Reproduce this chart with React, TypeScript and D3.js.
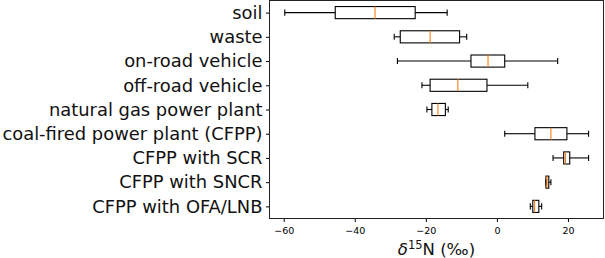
import React, { useEffect, useRef } from 'react'
import * as d3 from 'd3'

// categories top to bottom
const categories = [
    'soil',
    'waste',
    'on-road vehicle',
    'off-road vehicle',
    'natural gas power plant',
    'coal-fired power plant (CFPP)',
    'CFPP with SCR',
    'CFPP with SNCR',
    'CFPP with OFA/LNB',
]

// box stats (per mil)
const whiskerLow = [-59.7, -28.9, -28.0, -21.1, -19.7, 2.2, 15.8, 13.8, 9.4]
const q1 = [-45.5, -27.2, -7.3, -18.8, -18.3, 10.7, 18.8, 13.8, 10.1]
const median = [-34.3, -18.8, -2.5, -11.0, -16.6, 15.2, 19.3, 14.1, 10.6]
const q3 = [-23.0, -10.5, 2.2, -2.8, -14.5, 19.7, 20.5, 14.6, 11.8]
const whiskerHigh = [-14.0, -8.5, 17.1, 8.7, -13.7, 25.8, 25.8, 15.2, 12.6]

const xTicks = [-60, -40, -20, 0, 20]

const W = 605
const H = 258

const App = () => {
    const Chart = useRef<SVGSVGElement>(null)

    useEffect(() => {
        const svg = d3.select(Chart.current)
        svg.selectAll('*').remove()

        const x = d3.scaleLinear().domain([-64, 30]).range([269.5, 603.5])
        const y = d3.scaleLinear().domain([0.5, 9.5]).range([0.5, 218.5])

        const rows = categories.map((c, i) => ({
            pos: i + 1,
            lo: whiskerLow[i], q1: q1[i], med: median[i], q3: q3[i], hi: whiskerHigh[i],
        }))

        //Boxes
        const g = svg.append('g')
            .attr('stroke', '#000')
            .attr('stroke-width', 1.1)
            .attr('fill', 'none')
        const box = g.selectAll('g').data(rows).join('g')

        // whisker lines
        box.append('line')
            .attr('x1', d => x(d.lo)).attr('x2', d => x(d.q1))
            .attr('y1', d => y(d.pos)).attr('y2', d => y(d.pos))
        box.append('line')
            .attr('x1', d => x(d.q3)).attr('x2', d => x(d.hi))
            .attr('y1', d => y(d.pos)).attr('y2', d => y(d.pos))
        // caps
        box.append('line')
            .attr('x1', d => x(d.lo)).attr('x2', d => x(d.lo))
            .attr('y1', d => y(d.pos - 0.125)).attr('y2', d => y(d.pos + 0.125))
        box.append('line')
            .attr('x1', d => x(d.hi)).attr('x2', d => x(d.hi))
            .attr('y1', d => y(d.pos - 0.125)).attr('y2', d => y(d.pos + 0.125))
        // box
        box.append('rect')
            .attr('x', d => x(d.q1))
            .attr('width', d => x(d.q3) - x(d.q1))
            .attr('y', d => y(d.pos - 0.25))
            .attr('height', d => y(d.pos + 0.25) - y(d.pos - 0.25))
        // median
        box.append('line')
            .attr('stroke', '#ff7f0e')
            .attr('x1', d => x(d.med)).attr('x2', d => x(d.med))
            .attr('y1', d => y(d.pos - 0.25)).attr('y2', d => y(d.pos + 0.25))

        //Axes
        const xAxis = svg.append('g')
            .attr('transform', 'translate(0,218.5)')
            .call(d3.axisBottom(x).tickValues(xTicks).tickSize(3.5).tickPadding(5)
                .tickFormat(d => (+d < 0 ? '\u2212' + Math.abs(+d) : String(d))))
        xAxis.select('.domain').remove()
        xAxis.selectAll('text').style('font-size', '9.5px').style('font-family', 'DejaVu Sans').attr('fill', '#000')

        const yAxis = svg.append('g')
            .attr('transform', 'translate(269.5,0)')
            .call(d3.axisLeft(y).tickValues(rows.map(r => r.pos)).tickSize(3.5).tickPadding(3.5)
                .tickFormat(d => categories[+d - 1]))
        yAxis.select('.domain').remove()
        yAxis.selectAll('text').style('font-size', '17.9px').style('font-family', 'DejaVu Sans').attr('fill', '#111')

        // frame
        svg.append('rect')
            .attr('x', 269.5).attr('y', 0.5)
            .attr('width', 334).attr('height', 218)
            .attr('fill', 'none').attr('stroke', '#222')

        // x label
        const lbl = svg.append('text')
            .attr('x', (269.5 + 603.5) / 2)
            .attr('y', 255)
            .attr('text-anchor', 'middle')
            .style('font-family', 'DejaVu Sans')
            .style('font-size', '16.5px')
            .attr('fill', '#111')
        lbl.append('tspan').style('font-style', 'italic').text('\u03B4')
        lbl.append('tspan').attr('dy', -6.5).style('font-size', '11.5px').text('15')
        lbl.append('tspan').attr('dy', 6.5).text('N (\u2030)')
    })

    return (
        <div>
            <svg ref={Chart} width={W} height={H}
                style={{ position: 'absolute', left: 0, top: 0, background: '#fff' }}></svg>
        </div>
    )
}
export default App
